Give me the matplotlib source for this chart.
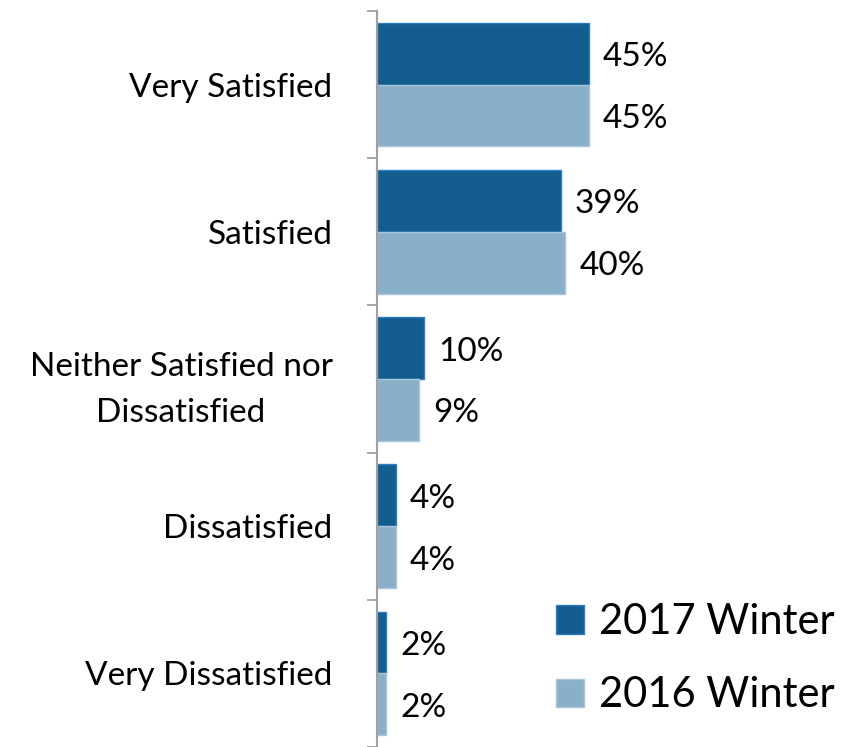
import matplotlib.pyplot as plt
import numpy as np

categories = ["Very Satisfied", "Satisfied", "Neither Satisfied nor\nDissatisfied",
              "Dissatisfied", "Very Dissatisfied"]
winter_2017 = [45, 39, 10, 4, 2]
winter_2016 = [45, 40, 9, 4, 2]
series_names = ["2017 Winter", "2016 Winter"]

plt.rcParams['font.family'] = ['Lato', 'DejaVu Sans']

fig = plt.figure(figsize=(8.63, 7.47), dpi=100)
ax = fig.add_axes([377 / 863, 0, 1 - 377 / 863, 1 - 11 / 747])

y = np.arange(len(categories))
h = 0.42
dark = "#145e8f"
light = "#8ab0c9"
b1 = ax.barh(y - h / 2, winter_2017, height=h, color=dark, edgecolor="#2a80cc",
             linewidth=1, label=series_names[0])
b2 = ax.barh(y + h / 2, winter_2016, height=h, color=light, edgecolor="#a8c6da",
             linewidth=1, label=series_names[1])

for bars, vals in ((b1, winter_2017), (b2, winter_2016)):
    for bar, v in zip(bars, vals):
        ax.annotate(f"{v}%", (bar.get_width(), bar.get_y() + bar.get_height() / 2),
                    xytext=(10, -2.5), textcoords="offset points",
                    ha="left", va="center", fontsize=24)

ax.set_xlim(0, 486 / 4.71)
ax.set_ylim(len(categories) - 0.5, -0.5)

ax.set_yticks(y)
ax.set_yticklabels(categories, fontsize=24, multialignment="center", linespacing=1.65)
ax.tick_params(axis="y", which="major", length=0, pad=32)
ax.set_yticks(np.arange(len(categories) + 1) - 0.5, minor=True)
ax.tick_params(axis="y", which="minor", length=7, width=1.3, color="#a0a0a0")
ax.set_xticks([])

for s in ("top", "right", "bottom"):
    ax.spines[s].set_visible(False)
ax.spines["left"].set_color("#a0a0a0")
ax.spines["left"].set_linewidth(1.5)

fig.legend(handles=[b1, b2], labels=series_names, loc="upper left",
           bbox_to_anchor=(556 / 863, 1 - 603 / 747), frameon=False,
           fontsize=30, handlelength=0.68, handleheight=0.68, handletextpad=0.35,
           labelspacing=0.85, borderpad=0, borderaxespad=0)

fig.savefig("out.png", dpi=100)
